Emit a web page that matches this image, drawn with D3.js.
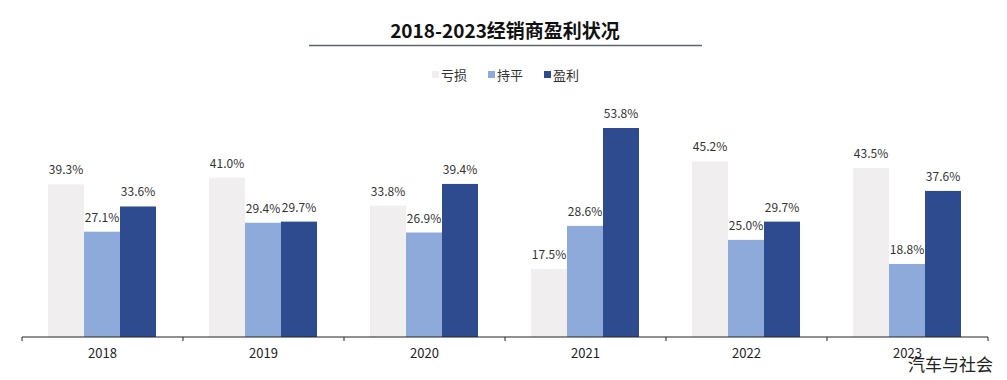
<!DOCTYPE html>
<html>
<head>
<meta charset="utf-8">
<script src="https://cdn.jsdelivr.net/npm/d3@7"></script>
<style>
  body { margin: 0; background: #fff; }
  text { font-family: "Noto Sans CJK SC", "Noto Sans", sans-serif; }
</style>
</head>
<body>
<div id="my_dataviz"></div>
<script>
// data
var years = ["2018", "2019", "2020", "2021", "2022", "2023"];
var seriesNames = ["亏损", "持平", "盈利"];
var loss = [39.3, 41.0, 33.8, 17.5, 45.2, 43.5];
var flat = [27.1, 29.4, 26.9, 28.6, 25.0, 18.8];
var profit = [33.6, 29.7, 39.4, 53.8, 29.7, 37.6];
var colors = ["#f0eeef", "#8eaadb", "#2e4b8f"];

var width = 1007, height = 380;
var svg = d3.select("#my_dataviz")
  .append("svg")
    .attr("width", width)
    .attr("height", height);

// title + underline
svg.append("text")
  .attr("x", 505).attr("y", 38)
  .attr("text-anchor", "middle")
  .style("font-size", "19px")
  .style("font-weight", "bold")
  .attr("fill", "#111")
  .text("2018-2023经销商盈利状况");
svg.append("line")
  .attr("x1", 309).attr("x2", 702)
  .attr("y1", 45.5).attr("y2", 45.5)
  .attr("stroke", "#5c6470")
  .attr("stroke-width", 1.5);

// legend
var legendX = [432, 488, 544];
var legend = svg.selectAll("g.legend")
  .data(seriesNames)
  .enter().append("g")
  .attr("class", "legend")
  .attr("transform", function(d, i) { return "translate(" + legendX[i] + ",75)"; });
legend.append("rect")
  .attr("x", 0).attr("y", -4)
  .attr("width", 7).attr("height", 7)
  .attr("fill", function(d, i) { return colors[i]; });
legend.append("text")
  .attr("x", 9).attr("y", 5)
  .style("font-size", "13px")
  .attr("fill", "#333")
  .text(function(d) { return d; });

// scales
var x = d3.scaleBand()
  .domain(years)
  .range([22, 988]);
var inner = d3.scaleBand()
  .domain([0, 1, 2])
  .range([26, x.bandwidth() - 27]);
var y = d3.scaleLinear()
  .domain([0, 53.8])
  .range([337, 128]);

var series = [loss, flat, profit];
var rows = [];
years.forEach(function(yr, i) {
  series.forEach(function(s, k) {
    rows.push({year: yr, k: k, v: s[i]});
  });
});

svg.selectAll("rect.bar")
  .data(rows)
  .enter().append("rect")
  .attr("class", "bar")
  .attr("x", function(d) { return x(d.year) + inner(d.k); })
  .attr("y", function(d) { return y(d.v); })
  .attr("width", inner.bandwidth())
  .attr("height", function(d) { return y(0) - y(d.v); })
  .attr("fill", function(d) { return colors[d.k]; });

svg.selectAll("text.value")
  .data(rows)
  .enter().append("text")
  .attr("class", "value")
  .attr("x", function(d) { return x(d.year) + inner(d.k) + inner.bandwidth() / 2; })
  .attr("y", function(d) { return y(d.v) - 10; })
  .attr("text-anchor", "middle")
  .style("font-size", "12px")
  .attr("fill", "#333")
  .text(function(d) { return d.v.toFixed(1) + "%"; });

// x axis
var xAxis = svg.append("g")
  .attr("transform", "translate(0,337)")
  .call(d3.axisBottom(x).tickSize(0).tickPadding(12));
xAxis.select(".domain").attr("stroke", "#222").attr("d", "M22,0H988");
xAxis.selectAll("text")
  .style("font-size", "13px")
  .style("font-family", "'Noto Sans CJK SC', sans-serif")
  .attr("fill", "#222");
var edges = d3.range(years.length + 1).map(function(i) { return 22 + i * x.step(); });
xAxis.selectAll("line.sep")
  .data(edges)
  .enter().append("line")
  .attr("class", "sep")
  .attr("x1", function(d) { return d; }).attr("x2", function(d) { return d; })
  .attr("y1", 0).attr("y2", 4)
  .attr("stroke", "#222");

// watermark
svg.append("text")
  .attr("x", 993).attr("y", 371)
  .attr("text-anchor", "end")
  .style("font-size", "17px")
  .attr("fill", "#222")
  .text("汽车与社会");
</script>
</body>
</html>
